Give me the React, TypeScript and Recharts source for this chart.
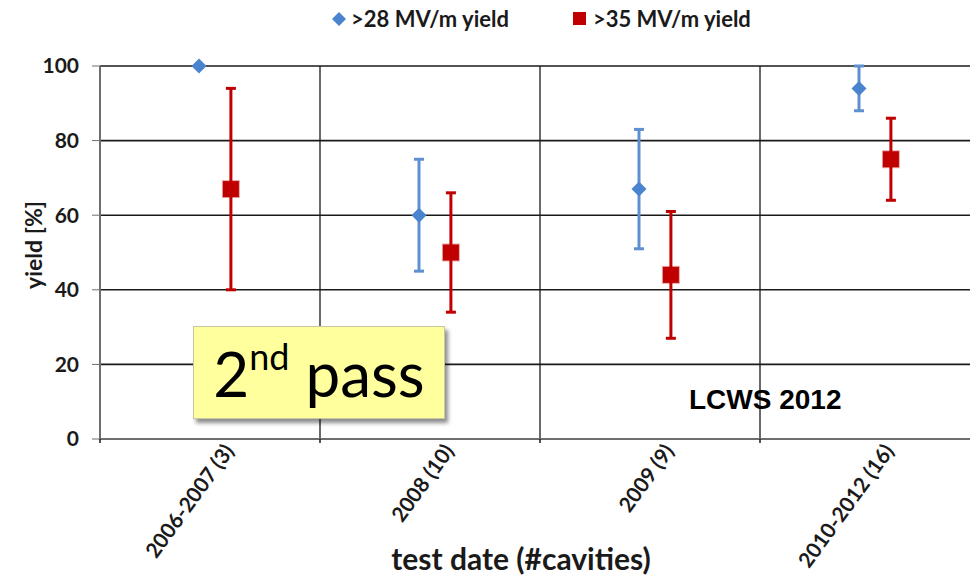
import React from 'react';
import {
  ScatterChart,
  Scatter,
  XAxis,
  YAxis,
  ErrorBar,
  ReferenceLine,
} from 'recharts';

// ============================================
// DATA
// ============================================

const categories = ['2006-2007 (3)', '2008 (10)', '2009 (9)', '2010-2012 (16)'];

// >28 MV/m yield, with error range
const yield28 = [100, 60, 67, 94];
const yield28Low = [100, 45, 51, 88];
const yield28High = [100, 75, 83, 100];

// >35 MV/m yield, with error range
const yield35 = [67, 50, 44, 75];
const yield35Low = [40, 34, 27, 64];
const yield35High = [94, 66, 61, 86];

const yTicks = [0, 20, 40, 60, 80, 100];

// ============================================
// STYLE
// ============================================

const FONT = "Lato, 'Open Sans', sans-serif";
const BLUE = '#4A84CF';
const BLUE_BAR = '#5E90D1';
const RED = '#C00000';
const GRID = '#1a1a1a';
const AXIS = '#6E6E6E';

// the two series sit a little apart inside each category band
const SHIFT_28 = -0.05;
const SHIFT_35 = 0.095;

const data28 = categories.map((name, i) => ({
  name,
  x: i + 0.5 + SHIFT_28,
  y: yield28[i],
  err: [yield28[i] - yield28Low[i], yield28High[i] - yield28[i]],
}));

const data35 = categories.map((name, i) => ({
  name,
  x: i + 0.5 + SHIFT_35,
  y: yield35[i],
  err: [yield35[i] - yield35Low[i], yield35High[i] - yield35[i]],
}));

// band edges get a tick mark, band centres get the label
const xTicks = categories.flatMap((_, i) => [i, i + 0.5]).concat(categories.length);
const bandEdges = categories.map((_, i) => i).slice(1);

function XTick(props: any) {
  const { x, y, payload } = props;
  const v = payload.value as number;
  if (Number.isInteger(v)) {
    return <line x1={x} x2={x} y1={y} y2={y + 4} stroke={GRID} strokeWidth={1.5} />;
  }
  const ax = x + 25;
  const ay = y + 12;
  return (
    <text
      x={ax}
      y={ay}
      textAnchor="end"
      transform={`rotate(-54 ${ax} ${ay})`}
      fontFamily={FONT}
      fontWeight={700}
      fontSize={21}
      fill="#1a1a1a"
    >
      {categories[Math.floor(v)]}
    </text>
  );
}

function Diamond(props: any) {
  const { cx, cy } = props;
  const r = 7.5;
  return (
    <polygon
      points={`${cx},${cy - r} ${cx + r},${cy} ${cx},${cy + r} ${cx - r},${cy}`}
      fill={BLUE}
    />
  );
}

function Square(props: any) {
  const { cx, cy } = props;
  const s = 16;
  return (
    <rect
      x={cx - s / 2}
      y={cy - s / 2}
      width={s}
      height={s}
      fill={RED}
      stroke="rgba(192,0,0,0.35)"
      strokeWidth={2}
    />
  );
}

export default function App() {
  return (
    <div
      style={{
        position: 'absolute',
        left: 0,
        top: 0,
        width: 970,
        height: 577,
        overflow: 'hidden',
        background: '#fff',
        fontFamily: FONT,
      }}
    >
      <ScatterChart
        width={990}
        height={577}
        margin={{ top: 66, right: 10, left: 0, bottom: 0 }}
      >
        {yTicks.slice(1).map((t) => (
          <ReferenceLine key={`h${t}`} y={t} stroke={GRID} strokeWidth={1.6} />
        ))}
        {bandEdges.map((e) => (
          <ReferenceLine key={`v${e}`} x={e} stroke={GRID} strokeWidth={1.3} />
        ))}
        <XAxis
          type="number"
          dataKey="x"
          domain={[0, categories.length]}
          ticks={xTicks}
          interval={0}
          height={138}
          tickSize={0}
          tickMargin={0}
          tickLine={false}
          tick={<XTick />}
          axisLine={{ stroke: AXIS, strokeWidth: 2 }}
        />
        <YAxis
          type="number"
          dataKey="y"
          domain={[0, 100]}
          ticks={yTicks}
          width={100}
          tickSize={8}
          tickMargin={13}
          tickLine={{ stroke: AXIS }}
          axisLine={{ stroke: AXIS, strokeWidth: 2 }}
          tick={{ fill: '#1a1a1a', fontFamily: FONT, fontWeight: 700, fontSize: 21 }}
        />
        <Scatter data={data28} fill={BLUE} shape={<Diamond />} isAnimationActive={false}>
          <ErrorBar dataKey="err" direction="y" width={5} stroke={BLUE_BAR} strokeWidth={3} />
        </Scatter>
        <Scatter data={data35} fill={RED} shape={<Square />} isAnimationActive={false}>
          <ErrorBar dataKey="err" direction="y" width={5} stroke={RED} strokeWidth={3} />
        </Scatter>
      </ScatterChart>

      {/* Legend */}
      <div style={{ position: 'absolute', top: 5, left: 332, display: 'flex', alignItems: 'center', fontWeight: 700, fontSize: 22, color: '#1a1a1a' }}>
        <svg width={14} height={14} style={{ marginRight: 5 }}>
          <polygon points="7,0 14,7 7,14 0,7" fill={BLUE} />
        </svg>
        <span>&gt;28 MV/m yield</span>
        <span style={{ display: 'inline-block', width: 13, height: 13, background: RED, marginLeft: 64, marginRight: 7 }} />
        <span>&gt;35 MV/m yield</span>
      </div>

      {/* Axis titles and note */}
      <svg width={970} height={577} style={{ position: 'absolute', left: 0, top: 0, pointerEvents: 'none' }}>
        <text
          x={33}
          y={245}
          textAnchor="middle"
          dominantBaseline="central"
          transform="rotate(-90 33 245)"
          fontFamily={FONT}
          fontWeight={700}
          fontSize={23}
          fill="#1a1a1a"
        >
          yield [%]
        </text>
        <text x={521} y={570} textAnchor="middle" fontFamily={FONT} fontWeight={700} fontSize={30} fill="#1a1a1a">
          test date (#cavities)
        </text>
        <text x={689} y={409} fontFamily="'Liberation Sans', Arial, sans-serif" fontWeight={700} fontSize={28} fill="#000">
          LCWS 2012
        </text>
      </svg>

      {/* 2nd pass box */}
      <div
        style={{
          position: 'absolute',
          left: 193,
          top: 326,
          width: 252,
          height: 93,
          boxSizing: 'border-box',
          background: '#FFFF9E',
          border: '1px solid #c8c8a0',
          boxShadow: '3px 4px 4px rgba(0,0,0,0.45)',
          display: 'flex',
          alignItems: 'center',
          justifyContent: 'center',
          fontFamily: FONT,
          fontSize: 62,
          color: '#000',
          lineHeight: 1,
        }}
      >
        <span>
          2<sup style={{ fontSize: 36, verticalAlign: 'top', position: 'relative', top: -4 }}>nd</sup> pass
        </span>
      </div>
    </div>
  );
}
